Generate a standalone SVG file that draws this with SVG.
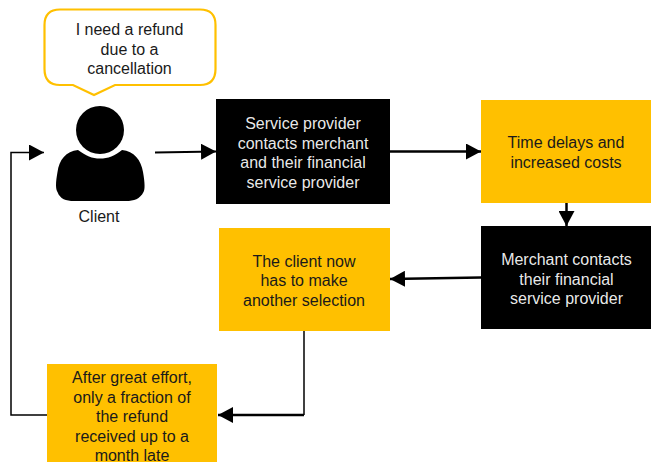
<svg xmlns="http://www.w3.org/2000/svg" width="651" height="462" viewBox="0 0 651 462">
<style>
text{font-family:"Liberation Sans",Arial,sans-serif;font-size:16px;text-anchor:middle}
.y{fill:#ffc000}.k{fill:#000}.w{fill:#fff;fill-opacity:.93}.d{fill:#1a1a1a}
.c{fill:none;stroke:#000}
</style>
<defs>
<marker id="a" markerUnits="userSpaceOnUse" markerWidth="16" markerHeight="16" refX="15" refY="8" orient="auto"><path d="M0 0L15 8L0 16Z" fill="#000"/></marker>
</defs>
<rect width="651" height="462" fill="#fff"/>
<g id="connectors">
<path class="c" stroke-width="2" d="M155 152.500L216 151.500" marker-end="url(#a)"/>
<path class="c" stroke-width="2.500" d="M389 151.500L481 151.500" marker-end="url(#a)"/>
<path class="c" stroke-width="2.500" d="M566.500 201L566.500 226" marker-end="url(#a)"/>
<path class="c" stroke-width="2.500" d="M481 277.500L390 279" marker-end="url(#a)"/>
<path class="c" stroke-width="1.500" d="M304 330L304 415"/>
<path class="c" stroke-width="2.500" d="M304 415L218 415" marker-end="url(#a)"/>
<path class="c" stroke-width="1.500" d="M47 415L11 415L11 152.500L44 152.500" marker-end="url(#a)"/>
</g>
<g id="callout">
<path d="M60 9.500H200Q215.500 9.500 215.500 25V69Q215.500 85 200 85H115L94 95L73 85H60Q44.500 85 44.500 69V25Q44.500 9.500 60 9.500Z" fill="#fff" stroke="#ffc000" stroke-width="2.200"/>
<text class="d" x="129.500" y="35">I need a refund</text>
<text class="d" x="129.500" y="54.500">due to a</text>
<text class="d" x="129.500" y="73.500">cancellation</text>
</g>
<g id="client">
<circle class="k" cx="100" cy="130" r="24"/>
<path class="k" d="M78 150C86 156 92 158.500 100 158.500C108 158.500 115 156 122 150C134 151 141 160 143 172C145 183 145 190 143.500 192C140 199 134 201 126 201H74C66 201 60 199 57.500 192C55.500 189 55.500 183 57.500 172C59 160 66 151 78 150Z"/>
<text class="d" x="99" y="222">Client</text>
</g>
<g id="service-provider">
<rect class="k" x="216" y="99" width="174" height="105"/>
<text class="w" x="303" y="129">Service provider</text>
<text class="w" x="303" y="148.500">contacts merchant</text>
<text class="w" x="303" y="168">and their financial</text>
<text class="w" x="303" y="187.500">service provider</text>
</g>
<g id="time-delays">
<rect class="y" x="481" y="100" width="170" height="103"/>
<text class="d" x="566" y="148">Time delays and</text>
<text class="d" x="566" y="167.500">increased costs</text>
</g>
<g id="merchant">
<rect class="k" x="481" y="226" width="170" height="103"/>
<text class="w" x="566.500" y="264.500">Merchant contacts</text>
<text class="w" x="566.500" y="284.500">their financial</text>
<text class="w" x="566.500" y="303.500">service provider</text>
</g>
<g id="selection">
<rect class="y" x="219" y="228" width="171" height="103"/>
<text class="d" x="304" y="266.500">The client now</text>
<text class="d" x="304" y="285.500">has to make</text>
<text class="d" x="304" y="305.500">another selection</text>
</g>
<g id="refund">
<rect class="y" x="47" y="364" width="170" height="98"/>
<text class="d" x="132" y="383">After great effort,</text>
<text class="d" x="132" y="402.500">only a fraction of</text>
<text class="d" x="132" y="422">the refund</text>
<text class="d" x="132" y="441.500">received up to a</text>
<text class="d" x="132" y="460.500">month late</text>
</g>
</svg>
